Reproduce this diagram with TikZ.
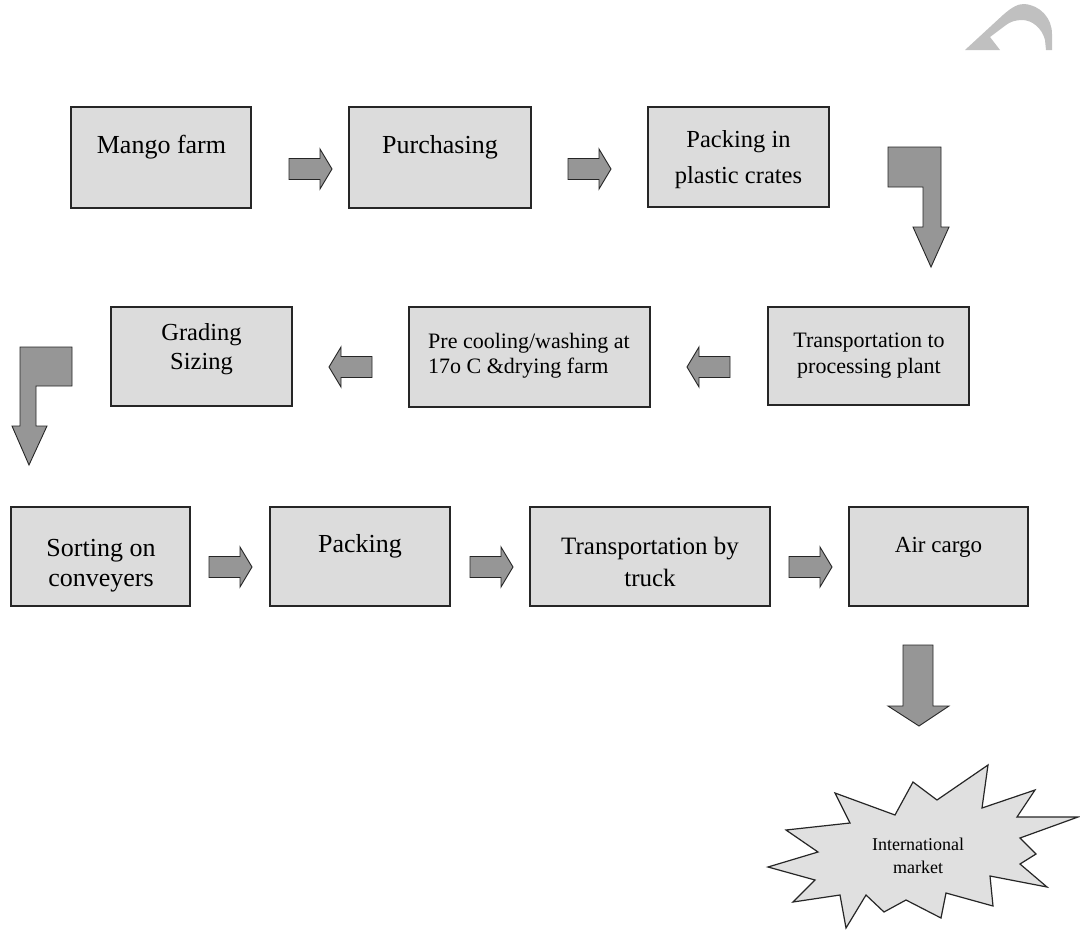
\documentclass[tikz,border=0pt]{standalone}
\usepackage{fontspec}
\setmainfont{Liberation Serif}
\definecolor{boxfill}{HTML}{DCDCDC}
\definecolor{arrfill}{HTML}{969696}
\definecolor{burstfill}{HTML}{E0E0E0}
\definecolor{wmgray}{HTML}{C0C0C0}
\tikzset{
  box/.style={draw=black!85, line width=1.5pt, fill=boxfill, inner sep=0pt},
  txt/.style={inner sep=0pt, align=center, text=black},
  blockarrow/.style={draw=black!85, line width=0.9pt, fill=arrfill, line join=miter},
  rarr/.pic={\path[blockarrow] (0,-10.5) -- (31,-10.5) -- (31,-20) -- (43,0) -- (31,20) -- (31,10.5) -- (0,10.5) -- cycle;},
  larr/.pic={\path[blockarrow] (0,-10.5) -- (-31,-10.5) -- (-31,-20) -- (-43,0) -- (-31,20) -- (-31,10.5) -- (0,10.5) -- cycle;}
}
\begin{document}
\begin{tikzpicture}[x=1pt,y=-1pt]
\useasboundingbox (0,0) rectangle (1080,930);
\fill[white] (0,0) rectangle (1080,930);

% watermark arc (top right)
\fill[wmgray] (965,50) -- (1003,15) .. controls (1012,7) and (1018,4) .. (1024,4)
  .. controls (1040,5) and (1052,18) .. (1052,34) -- (1052,50) -- (1046,50)
  -- (1045,40) .. controls (1042,28) and (1032,20) .. (1022,20)
  .. controls (1015,20) and (1010,22) .. (1006,25) -- (990,37) -- (1000,50) -- cycle;

% boxes, row 1
\node[box, minimum width=180pt, minimum height=101pt] (mango) at (161,157.5) {};
\node[box, minimum width=182pt, minimum height=101pt] (purch) at (440,157.5) {};
\node[box, minimum width=181pt, minimum height=100pt] (crates) at (738.5,157) {};
% row 2
\node[box, minimum width=181pt, minimum height=99pt] (grading) at (201.5,356.5) {};
\node[box, minimum width=241pt, minimum height=100pt] (precool) at (529.5,357) {};
\node[box, minimum width=201pt, minimum height=98pt] (transplant) at (868.5,356) {};
% row 3
\node[box, minimum width=179pt, minimum height=99pt] (sorting) at (100.5,556.5) {};
\node[box, minimum width=180pt, minimum height=99pt] (packing) at (360,556.5) {};
\node[box, minimum width=240pt, minimum height=99pt] (truck) at (650,556.5) {};
\node[box, minimum width=179pt, minimum height=99pt] (cargo) at (938.5,556.5) {};

% texts
\node[txt, font=\fontsize{26}{34}\selectfont] (tmango) at (161.5,147) {Mango farm};
\node[txt, font=\fontsize{26}{34}\selectfont] (tpurch) at (440,147) {Purchasing};
\node[txt, font=\fontsize{24.5}{36}\selectfont] (tcrates) at (738.5,160) {Packing in\\plastic crates};
\node[txt, font=\fontsize{24.5}{29}\selectfont] (tgrading) at (201.5,349) {Grading\\Sizing};
\node[txt, font=\fontsize{22}{25}\selectfont, align=left, anchor=west] (tprecool) at (428,356) {Pre cooling/washing at\\17o C \&drying farm};
\node[txt, font=\fontsize{22}{26}\selectfont] (ttransplant) at (869,356) {Transportation to\\processing plant};
\node[txt, font=\fontsize{26}{30}\selectfont] (tsorting) at (101,566) {Sorting on\\conveyers};
\node[txt, font=\fontsize{26}{30}\selectfont] (tpacking) at (360,546) {Packing};
\node[txt, font=\fontsize{25}{32}\selectfont] (ttruck) at (650,562) {Transportation by\\truck};
\node[txt, font=\fontsize{23}{30}\selectfont] (tcargo) at (938.5,547) {Air cargo};

% straight block arrows
\pic at (289,169) {rarr};
\pic at (568,169) {rarr};
\pic at (372,367) {larr};
\pic at (730,367) {larr};
\pic at (209,567) {rarr};
\pic at (470,567) {rarr};
\pic at (789,567) {rarr};

% bent arrow top right
\path[blockarrow] (888,147) -- (941,147) -- (941,227) -- (949,227) -- (931,267)
  -- (913,227) -- (923,227) -- (923,187) -- (888,187) -- cycle;
% bent arrow left
\path[blockarrow] (20,347) -- (72,347) -- (72,386) -- (36,386) -- (36,426)
  -- (47,426) -- (29,465) -- (12,426) -- (20,426) -- cycle;
% down arrow
\path[blockarrow] (903,645) -- (933,645) -- (933,706) -- (949,706) -- (919,726)
  -- (888,706) -- (903,706) -- cycle;

% starburst
\path[draw=black!85, line width=1.2pt, fill=burstfill, line join=miter]
  (768,867) -- (818,852) -- (786,830) -- (850,823) -- (835,793) -- (895,815)
  -- (913,782) -- (937,800) -- (988,765) -- (982,808) -- (1035,790) -- (1017,817)
  -- (1078,817) -- (1020,838) -- (1036,854) -- (1020,864) -- (1047,887) -- (990,876)
  -- (993,906) -- (946,893) -- (941,918) -- (906,900) -- (884,912) -- (866,895)
  -- (846,928) -- (840,895) -- (793,902) -- (815,880) -- cycle;
\node[txt, font=\fontsize{18}{23}\selectfont] (tmarket) at (918,856) {International\\market};
\end{tikzpicture}
\end{document}
